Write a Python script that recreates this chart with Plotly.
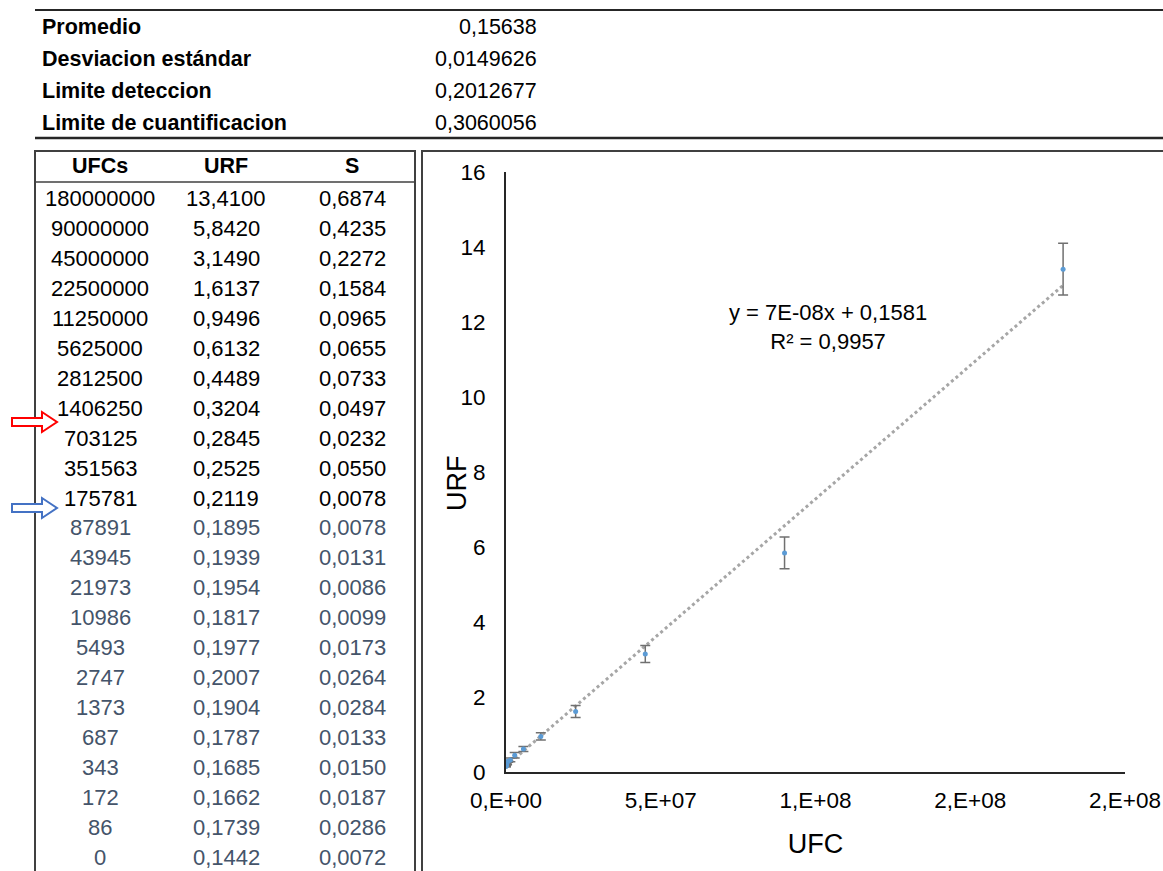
import numpy as np
import plotly.graph_objects as go

W, H = 1163, 871
FONT = "Liberation Sans, Arial, sans-serif"

# ---------------- data ----------------
stat_labels = ["Promedio", "Desviacion estándar", "Limite deteccion", "Limite de cuantificacion"]
stat_values = ["0,15638", "0,0149626", "0,2012677", "0,3060056"]

table_headers = ["UFCs", "URF", "S"]
ufcs = [180000000, 90000000, 45000000, 22500000, 11250000, 5625000, 2812500,
        1406250, 703125, 351563, 175781, 87891, 43945, 21973, 10986, 5493,
        2747, 1373, 687, 343, 172, 86, 0]
urf = [13.4100, 5.8420, 3.1490, 1.6137, 0.9496, 0.6132, 0.4489, 0.3204, 0.2845,
       0.2525, 0.2119, 0.1895, 0.1939, 0.1954, 0.1817, 0.1977, 0.2007, 0.1904,
       0.1787, 0.1685, 0.1662, 0.1739, 0.1442]
s_dev = [0.6874, 0.4235, 0.2272, 0.1584, 0.0965, 0.0655, 0.0733, 0.0497, 0.0232,
         0.0550, 0.0078, 0.0078, 0.0131, 0.0086, 0.0099, 0.0173, 0.0264, 0.0284,
         0.0133, 0.0150, 0.0187, 0.0286, 0.0072]

x_tickvals = [0, 5e7, 1e8, 1.5e8, 2e8]
x_ticktext = ["0,E+00", "5,E+07", "1,E+08", "2,E+08", "2,E+08"]
y_tickvals = [0, 2, 4, 6, 8, 10, 12, 14, 16]

trend_label = ["y = 7E-08x + 0,1581", "R² = 0,9957"]
x_title = "UFC"
y_title = "URF"


def fmt4(v):
    return f"{v:.4f}".replace(".", ",")


def px(x):
    return x / W


def py(y):
    return 1 - y / H


# ---------------- figure ----------------
fig = go.Figure()

# linear trendline (least squares over the data range)
slope, intercept = np.polyfit(np.array(ufcs, float), np.array(urf, float), 1)
tx = np.array([0.0, max(ufcs)])
fig.add_trace(go.Scatter(
    x=tx, y=slope * tx + intercept, mode="lines",
    line=dict(color="#a6a6a6", width=3, dash="dot"),
    hoverinfo="skip", showlegend=False))

# data points with error bars
fig.add_trace(go.Scatter(
    x=ufcs, y=urf, mode="markers",
    marker=dict(color="#5b9bd5", size=5),
    error_y=dict(type="data", array=s_dev, visible=True,
                 color="#707070", thickness=1.5, width=5),
    showlegend=False))

annotations = []
shapes = []

# --- statistics block ---
shapes.append(dict(type="line", xref="paper", yref="paper",
                   x0=px(35), x1=px(1163), y0=py(10), y1=py(10),
                   line=dict(color="#262626", width=2)))
shapes.append(dict(type="line", xref="paper", yref="paper",
                   x0=px(35), x1=px(1163), y0=py(138), y1=py(138),
                   line=dict(color="#262626", width=2.5)))
for i, (lab, val) in enumerate(zip(stat_labels, stat_values)):
    yy = 27 + i * 32
    annotations.append(dict(text=f"<b>{lab}</b>", x=px(40), y=py(yy), xref="paper", yref="paper",
                            xanchor="left", yanchor="middle", showarrow=False,
                            font=dict(family=FONT, size=21.5, color="#000000")))
    annotations.append(dict(text=val, x=px(539), y=py(yy), xref="paper", yref="paper",
                            xanchor="right", yanchor="middle", showarrow=False,
                            font=dict(family=FONT, size=21.5, color="#000000")))

# --- data table ---
shapes.append(dict(type="rect", xref="paper", yref="paper",
                   x0=px(35), x1=px(415), y0=py(151), y1=py(900),
                   line=dict(color="#404040", width=2)))
shapes.append(dict(type="line", xref="paper", yref="paper",
                   x0=px(35), x1=px(415), y0=py(182), y1=py(182),
                   line=dict(color="#404040", width=1.5)))
col_x = [100, 226, 352]
for cx, hd in zip(col_x, table_headers):
    annotations.append(dict(text=f"<b>{hd}</b>", x=px(cx), y=py(166), xref="paper", yref="paper",
                            xanchor="center", yanchor="middle", showarrow=False,
                            font=dict(family=FONT, size=21.5, color="#000000")))
for i, (u, r, s) in enumerate(zip(ufcs, urf, s_dev)):
    yy = 198.5 + i * 29.95
    col = "#000000" if i <= 10 else "#44546a"
    for cx, txt in zip(col_x, [str(u), fmt4(r), fmt4(s)]):
        annotations.append(dict(text=txt, x=px(cx), y=py(yy), xref="paper", yref="paper",
                                xanchor="center", yanchor="middle", showarrow=False,
                                font=dict(family=FONT, size=22, color=col)))


# --- outline arrows ---
def arrow_path(yc):
    pts = [(12, yc - 4), (42, yc - 4), (42, yc - 10), (57, yc), (42, yc + 10),
           (42, yc + 4), (12, yc + 4)]
    return "M " + " L ".join(f"{px(a):.5f},{py(b):.5f}" for a, b in pts) + " Z"


shapes.append(dict(type="path", xref="paper", yref="paper", path=arrow_path(422),
                   line=dict(color="#ff0000", width=2), fillcolor="white"))
shapes.append(dict(type="path", xref="paper", yref="paper", path=arrow_path(508),
                   line=dict(color="#4472c4", width=2), fillcolor="white"))

# --- chart frame ---
shapes.append(dict(type="rect", xref="paper", yref="paper",
                   x0=px(422), x1=px(1175), y0=py(151), y1=py(900),
                   line=dict(color="#404040", width=2), layer="below"))

# trendline equation
annotations.append(dict(text=trend_label[0] + "<br>" + trend_label[1],
                        x=px(828), y=py(327), xref="paper", yref="paper",
                        xanchor="center", yanchor="middle", showarrow=False, align="center",
                        font=dict(family=FONT, size=22, color="#000000")))

# y-axis title (placed like the spreadsheet chart, close to the tick labels)
annotations.append(dict(text=y_title, x=px(457), y=py(483), xref="paper", yref="paper",
                        xanchor="center", yanchor="middle", showarrow=False, textangle=-90,
                        font=dict(family=FONT, size=27, color="#000000")))

fig.update_layout(
    width=W, height=H,
    margin=dict(l=0, r=0, t=0, b=0),
    paper_bgcolor="white", plot_bgcolor="white",
    font=dict(family=FONT, color="#000000"),
    showlegend=False,
    annotations=annotations,
    shapes=shapes,
    xaxis=dict(domain=[px(506), px(1125)], range=[0, 2e8],
               tickvals=x_tickvals, ticktext=x_ticktext,
               showgrid=False, zeroline=False, showline=True,
               linecolor="#262626", linewidth=2, ticks="",
               ticklabelstandoff=7,
               tickfont=dict(family=FONT, size=22.5, color="#000000"),
               title=dict(text=x_title, font=dict(family=FONT, size=27, color="#000000"),
                          standoff=22),
               automargin=False),
    yaxis=dict(domain=[py(772), py(172)], range=[0, 16],
               tickvals=y_tickvals,
               showgrid=False, zeroline=False, showline=True,
               linecolor="#262626", linewidth=2, ticks="",
               ticklabelstandoff=14,
               tickfont=dict(family=FONT, size=22.5, color="#000000"),
               automargin=False),
)

fig.write_html("out.html")
